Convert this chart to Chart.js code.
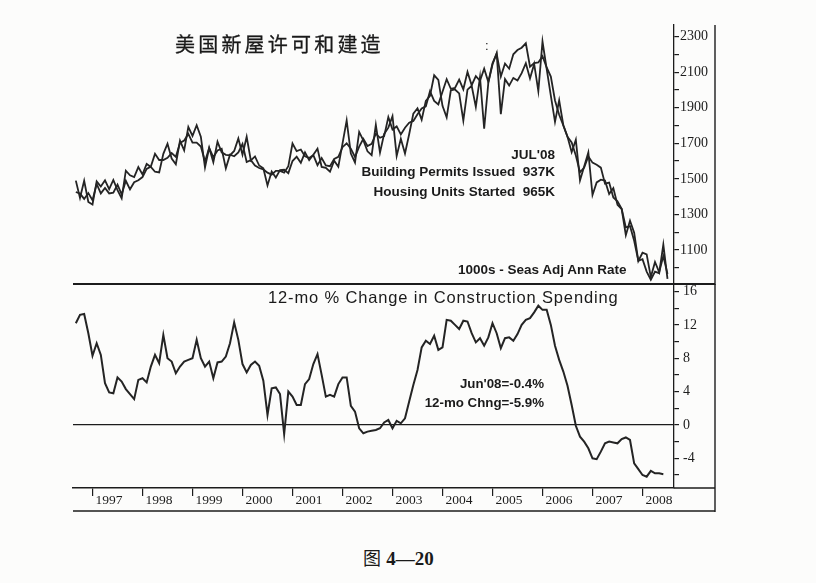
<!DOCTYPE html>
<html lang="zh">
<head>
<meta charset="UTF-8">
<title>美国新屋许可和建造</title>
<script src="https://cdn.jsdelivr.net/npm/chart.js"></script>
<style>
  body { margin: 0; background: #fff; }
  #page { position: relative; width: 816px; height: 583px; overflow: hidden; background: #fcfcfb; }
  canvas { position: absolute; left: 0; }
  .t { position: absolute; white-space: nowrap; color: #1a1a1a; transform: translateY(-50%);
       font-family: "Liberation Sans", Arial, sans-serif; font-weight: bold; font-size: 13.5px; line-height: 1; }
  .r { text-align: right; }
</style>
</head>
<body>
<div id="page">
  <canvas id="topChart" width="816" height="300" style="top:0"></canvas>
  <canvas id="botChart" width="816" height="250" style="top:270px"></canvas>

  <div class="t" style="left:175px; top:44px; font-family:'Noto Sans CJK SC'; font-weight:normal; font-size:20px; letter-spacing:3.2px; -webkit-text-stroke:0.3px #1a1a1a;">美国新屋许可和建造</div>
  <div class="t" style="left:485px; top:45px; font-weight:normal; font-size:13px;">:</div>

  <div class="t r" style="right:261px; top:155px;">JUL'08</div>
  <div class="t r" style="right:261px; top:172px;">Building Permits Issued&nbsp; 937K</div>
  <div class="t r" style="right:261px; top:192px;">Housing Units Started&nbsp; 965K</div>
  <div class="t" style="left:458px; top:270px;">1000s - Seas Adj Ann Rate</div>

  <div class="t" style="left:268px; top:297px; font-weight:normal; font-size:16.5px; letter-spacing:0.85px;">12-mo % Change in Construction Spending</div>
  <div class="t r" style="right:272px; top:384px; font-size:13.3px;">Jun'08=-0.4%</div>
  <div class="t r" style="right:272px; top:403px; font-size:13.3px;">12-mo Chng=-5.9%</div>

  <div class="t" style="left:363px; top:558px; font-size:19px;"><span style="font-family:'Noto Sans CJK SC'; font-weight:normal; font-size:18px;">图</span> <span style="font-family:'Liberation Serif';">4—20</span></div>
</div>

<script>
    // monthly series, first value = Sep 1996
    const startYear = 1996;
    const startMonth = 9;

    const years = ['1997', '1998', '1999', '2000', '2001', '2002', '2003', '2004', '2005', '2006', '2007', '2008'];

    const permitTickLabels = [1100, 1300, 1500, 1700, 1900, 2100, 2300];
    const spendTickLabels = [-4, 0, 4, 8, 12, 16];

    // Housing units started, 1000s SAAR (Sep'96 - Jul'08)
    const starts = [
        1490, 1392, 1489, 1370,
        1355, 1486, 1457, 1492, 1442, 1494, 1437, 1390, 1546, 1520, 1510, 1566,
        1525, 1584, 1567, 1540, 1536, 1641, 1698, 1614, 1582, 1715, 1660, 1792,
        1742, 1802, 1737, 1564, 1675, 1593, 1709, 1649, 1635, 1633, 1657, 1727,
        1636, 1737, 1604, 1626, 1575, 1559, 1463, 1541, 1507, 1549, 1551, 1532,
        1600, 1625, 1590, 1649, 1605, 1636, 1670, 1567, 1562, 1540, 1602, 1568,
        1698, 1829, 1642, 1592, 1764, 1717, 1655, 1633, 1804, 1648, 1753, 1788,
        1853, 1629, 1726, 1643, 1751, 1867, 1897, 1833, 1939, 1967, 2083, 2057,
        1911, 1846, 1998, 2003, 1981, 1828, 2002, 2024, 1905, 2072, 1782, 2042,
        2144, 2207, 1864, 2061, 2025, 2068, 2054, 2095, 2151, 2065, 2147, 1994,
        2273, 2119, 1969, 1821, 1942, 1802, 1737, 1650, 1720, 1491, 1570, 1649,
        1409, 1480, 1495, 1490, 1415, 1448, 1354, 1330, 1183, 1264, 1197, 1037,
        1084, 1075, 947, 1032, 975, 1066, 965
    ];

    // Building permits issued, 1000s SAAR (Sep'96 - Jul'08)
    const permits = [
        1426, 1417, 1387, 1420,
        1380, 1471, 1418, 1449, 1418, 1422, 1467, 1412, 1489, 1441, 1481, 1492,
        1510, 1556, 1569, 1641, 1606, 1606, 1618, 1645, 1624, 1702, 1716, 1753,
        1704, 1704, 1682, 1597, 1673, 1622, 1660, 1669, 1559, 1636, 1627, 1649,
        1697, 1595, 1605, 1575, 1561, 1553, 1535, 1524, 1545, 1545, 1535, 1571,
        1699, 1656, 1665, 1627, 1618, 1634, 1577, 1617, 1576, 1571, 1612, 1624,
        1678, 1700, 1670, 1623, 1681, 1725, 1685, 1697, 1754, 1731, 1740, 1848,
        1778, 1795, 1750, 1788, 1816, 1826, 1864, 1896, 1908, 1993, 1939, 1919,
        1990, 2061, 2007, 2012, 2059, 2004, 2102, 2027, 2078, 2052, 2120, 2045,
        2150, 2205, 2076, 2149, 2120, 2201, 2225, 2238, 2263, 2131, 2152, 2155,
        2190, 2127, 2076, 1941, 1861, 1800, 1736, 1705, 1631, 1537, 1564, 1626,
        1591, 1579, 1563, 1473, 1479, 1395, 1374, 1331, 1227, 1234, 1151, 1039,
        1048, 978, 932, 978, 969, 1130, 937
    ];

    // 12-mo % change in construction spending (Sep'96 - Jun'08)
    const spending = [
        12.2, 13.2, 13.3, 11.0,
        8.3, 9.8, 8.4, 5.0, 3.9, 3.8, 5.7, 5.2, 4.3, 3.7, 3.1, 5.4,
        5.6, 5.1, 7.0, 8.4, 7.4, 10.8, 8.0, 7.6, 6.2, 7.0, 7.6, 7.8,
        8.0, 10.2, 8.0, 7.0, 7.6, 5.6, 7.5, 7.6, 8.2, 9.8, 12.3, 10.2,
        7.3, 6.3, 7.2, 7.6, 7.1, 5.3, 1.2, 4.4, 4.5, 3.7, -1.1, 4.0,
        3.4, 2.4, 2.4, 4.9, 5.5, 7.3, 8.5, 6.0, 3.4, 3.6, 3.4, 4.9,
        5.7, 5.7, 2.3, 1.6, -0.4, -1.0, -0.8, -0.7, -0.6, -0.4, 0.3, 0.6,
        -0.4, 0.5, 0.2, 0.8, 2.8, 4.8, 6.6, 9.3, 10.1, 9.7, 10.7, 9.0,
        9.3, 12.6, 12.5, 12.0, 11.5, 12.5, 12.4, 11.0, 9.9, 10.4, 9.5, 10.5,
        12.2, 11.0, 9.2, 10.4, 10.5, 10.1, 10.9, 12.0, 12.6, 12.8, 13.5, 14.3,
        13.8, 13.8, 12.0, 9.5, 7.8, 6.4, 4.7, 2.4, -0.1, -1.4, -2.0, -2.8,
        -4.0, -4.1, -3.2, -2.2, -2.0, -2.1, -2.2, -1.7, -1.5, -1.8, -4.6, -5.3,
        -6.0, -6.2, -5.5, -5.8, -5.8, -5.9
    ];

    const X_MIN = 1996.61;
    const X_MAX = 2008.63;
    const FRAME_X = 715;
    const INK = '#1c1c1c';

    Chart.defaults.font.family = 'Liberation Serif';
    Chart.defaults.color = INK;

    function monthPoints(values) {
        return values.map((v, i) => ({ x: startYear + (startMonth - 1 + i) / 12, y: v }));
    }

    // extra rules of the scanned chart: panel divider, axis strip, right frame
    const frameLines = {
        id: 'frameLines',
        afterDraw(chart, args, opts) {
            const { ctx, chartArea: a } = chart;
            const bottom = a.bottom + (opts.strip || 0);
            ctx.save();
            ctx.strokeStyle = INK;
            ctx.lineWidth = 1.4;
            ctx.beginPath();
            ctx.moveTo(FRAME_X, a.top);
            ctx.lineTo(FRAME_X, bottom + 1);
            ctx.stroke();
            if (opts.divider) {
                ctx.lineWidth = 1.8;
                ctx.beginPath();
                ctx.moveTo(a.left, a.bottom);
                ctx.lineTo(FRAME_X, a.bottom);
                ctx.stroke();
            }
            if (opts.strip) {
                ctx.lineWidth = 1.5;
                ctx.beginPath();
                ctx.moveTo(a.right, a.bottom);
                ctx.lineTo(FRAME_X, a.bottom);
                ctx.moveTo(a.left, bottom);
                ctx.lineTo(FRAME_X, bottom);
                ctx.stroke();
            }
            ctx.restore();
        }
    };

    function rightAxis(min, max, labels, minorStep, pad) {
        return {
            position: 'right',
            min: min,
            max: max,
            afterBuildTicks: (s) => {
                s.ticks = labels.flatMap(v => [{ value: v - minorStep }, { value: v }]);
            },
            afterFit: (s) => { s.width = 142; },
            ticks: {
                callback: (v) => labels.includes(v) ? String(v) : '',
                autoSkip: false,
                font: { size: 14 },
                padding: pad,
                color: INK
            },
            grid: { drawOnChartArea: false, tickLength: 5, color: INK, tickColor: INK, lineWidth: 1.2 },
            border: { color: INK, width: 1.3 }
        };
    }

    function lineSet(values, width) {
        return {
            data: monthPoints(values),
            borderColor: '#242424',
            borderWidth: width,
            pointRadius: 0,
            tension: 0,
            fill: false
        };
    }

    new Chart(document.getElementById('topChart'), {
        type: 'line',
        data: { datasets: [lineSet(starts, 1.8), lineSet(permits, 1.8)] },
        options: {
            responsive: false,
            animation: false,
            layout: { padding: { left: 73, top: 25, right: 0, bottom: 16 } },
            plugins: { legend: { display: false }, tooltip: { enabled: false }, frameLines: { divider: true } },
            scales: {
                x: { type: 'linear', min: X_MIN, max: X_MAX, display: false },
                y: rightAxis(908, 2366, permitTickLabels, 100, 1)
            }
        },
        plugins: [frameLines]
    });

    const botY = rightAxis(-7.56, 16.9, spendTickLabels, 2, 4);
    botY.grid.drawOnChartArea = true;
    botY.grid.color = (c) => c.tick && c.tick.value === 0 ? INK : 'rgba(0,0,0,0)';

    new Chart(document.getElementById('botChart'), {
        type: 'line',
        data: { datasets: [lineSet(spending, 2)] },
        options: {
            responsive: false,
            animation: false,
            layout: { padding: { left: 73, top: 14, right: 0, bottom: 9 } },
            plugins: { legend: { display: false }, tooltip: { enabled: false }, frameLines: { strip: 23 } },
            scales: {
                x: {
                    type: 'linear',
                    min: X_MIN,
                    max: X_MAX,
                    position: 'bottom',
                    afterBuildTicks: (s) => { s.ticks = years.map(y => ({ value: Number(y) })); },
                    afterFit: (s) => { s.height = 23; },
                    ticks: {
                        callback: (v) => String(v),
                        align: 'start',
                        labelOffset: 3,
                        padding: -4,
                        autoSkip: false,
                        maxRotation: 0,
                        font: { size: 13.5 },
                        color: INK
                    },
                    grid: { drawOnChartArea: false, tickLength: 8, color: INK, lineWidth: 1.2 },
                    border: { color: INK, width: 1.5 }
                },
                y: botY
            }
        },
        plugins: [frameLines]
    });
</script>
</body>
</html>
